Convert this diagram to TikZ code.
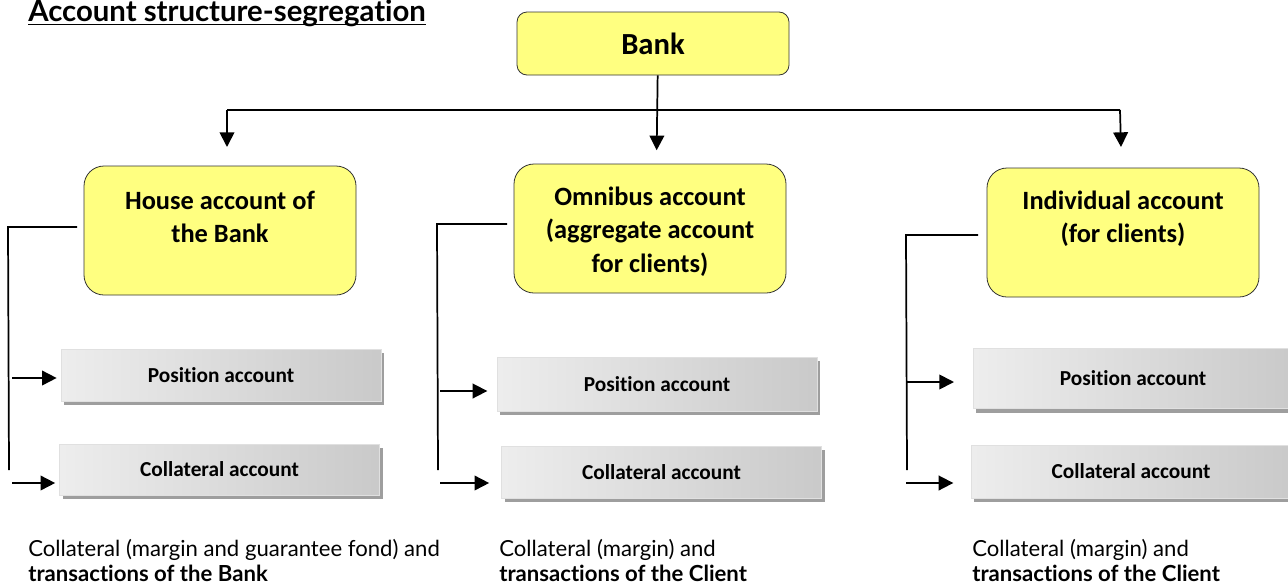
\documentclass[tikz,border=0pt]{standalone}
\usepackage{fontspec}
\setmainfont[Ligatures={NoCommon,NoRequired}]{Carlito}
\newfontfamily\lato[Ligatures={NoCommon,NoRequired}]{Lato}
\usetikzlibrary{arrows.meta,shadows}
\definecolor{boxyellow}{RGB}{255,255,128}
\begin{document}
\begin{tikzpicture}[x=0.75pt,y=-0.75pt,
  conn/.style={line width=1.3pt,black},
  arr/.style={conn,-{Triangle[length=11pt,width=11pt]}},
  ybox/.style={draw=black!80,line width=0.6pt,fill=boxyellow,rounded corners=15pt,
    minimum width=204pt,minimum height=96.75pt,inner sep=0pt},
  ytext/.style={font=\fontsize{19.8}{25}\selectfont\bfseries,align=center,inner sep=0pt},
  gbox/.style={draw=black!12,line width=0.5pt,left color=black!7,right color=black!21,
    minimum width=240pt,inner sep=0pt,font=\fontsize{16}{18}\selectfont\bfseries,
    drop shadow={shadow xshift=2.25pt,shadow yshift=-3pt,opacity=1,fill=black!38}},
  note/.style={anchor=north west,align=left,inner sep=0pt,font=\lato\fontsize{16.6}{18.5}\selectfont}
]
\useasboundingbox (0,0) rectangle (1288,586);

% title
\node[anchor=base west,inner sep=0pt,font=\lato\bfseries\fontsize{22}{26}\selectfont] (title) at (28,21) {Account structure-segregation};
\draw[line width=1.4pt] ([yshift=-2.6pt]title.base west) -- ([yshift=-2.6pt]title.base east);

% Bank
\node[draw=black!80,line width=0.6pt,fill=boxyellow,rounded corners=7.5pt,minimum width=204pt,minimum height=47.25pt,
  font=\fontsize{23}{26}\selectfont\bfseries] (bank) at (653,43.5) {Bank};

% yellow boxes
\node[ybox] (house) at (220,230.5) {};
\node[ytext] (houseT) at (220,217) {House account of\\the Bank};
\node[ybox] (omni) at (650,228.5) {};
\node[ytext] (omniT) at (650,231.5) {Omnibus account\\(aggregate account\\for clients)};
\node[ybox] (indiv) at (1123,232.5) {};
\node[ytext] (indivT) at (1123,219) {Individual account\\(for clients)};

% top tree
\coordinate (tL) at (227,110);
\coordinate (tR) at (1120,110);
\draw[conn] (tL) -- (tR);
\draw[arr] ([xshift=3.5pt]bank.south) -- ([xshift=5pt,yshift=10pt]omni.north);
\draw[arr] (tL) -- (227,147);
\draw[arr] (tR) -- (1121,147);

% gray boxes
\node[gbox,minimum height=39pt] (hpos) at (221,375) {Position account};
\node[gbox,minimum height=38.25pt] (hcol) at (219.5,469.5) {Collateral account};
\node[gbox,minimum height=40.5pt] (opos) at (657,384) {Position account};
\node[gbox,minimum height=39pt] (ocol) at (661.5,472) {Collateral account};
\node[gbox,minimum height=45pt] (ipos) at (1133,378.5) {Position account};
\node[gbox,minimum height=39.75pt] (icol) at (1131,471.5) {Collateral account};

% side connectors: house
\coordinate (h1) at (77,227);
\coordinate (h2) at (8,227);
\coordinate (h3) at (9,470);
\draw[conn] (h1) -- (h2) -- (h3);
\coordinate (ha) at (12,378);
\coordinate (hb) at (12,483);
\draw[arr,shorten >=3pt] (ha) -- (ha -| hpos.west);
\draw[arr,shorten >=3pt] (hb) -- (hb -| hcol.west);

% omnibus
\coordinate (o1) at (507,224);
\coordinate (o2) at (437,224);
\coordinate (o3) at (438,470);
\draw[conn] (o1) -- (o2) -- (o3);
\coordinate (oa) at (440,391);
\coordinate (ob) at (440,483);
\draw[arr,shorten >=7pt] (oa) -- (oa -| opos.west);
\draw[arr,shorten >=9pt] (ob) -- (ob -| ocol.west);

% individual
\coordinate (i1) at (978,235);
\coordinate (i2) at (906,235);
\coordinate (i3) at (907,470);
\draw[conn] (i1) -- (i2) -- (i3);
\coordinate (ia) at (906,382);
\coordinate (ib) at (906,483);
\draw[arr,shorten >=14pt] (ia) -- (ia -| ipos.west);
\draw[arr,shorten >=13pt] (ib) -- (ib -| icol.west);

% notes
\node[note] (n1) at (28,539) {Collateral (margin and guarantee fond) and\\\textbf{transactions of the Bank}};
\node[note] (n2) at (499,539) {Collateral (margin) and\\\textbf{transactions of the Client}};
\node[note] (n3) at (972,539) {Collateral (margin) and\\\textbf{transactions of the Client}};
\end{tikzpicture}
\end{document}
